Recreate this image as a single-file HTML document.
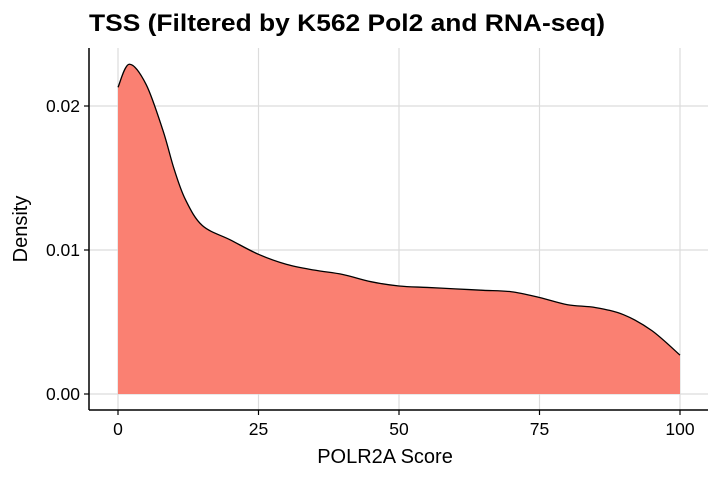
<!DOCTYPE html>
<html><head><meta charset="utf-8"><style>
body{margin:0;background:#fff;font-family:"Liberation Sans",sans-serif}
</style></head><body>
<svg id="chart" width="720" height="480">
<text x="89" y="31" font-size="24" font-weight="bold" fill="#000" textLength="516" lengthAdjust="spacingAndGlyphs">TSS (Filtered by K562 Pol2 and RNA-seq)</text>
<g id="grid"></g>
<g id="area"></g>
<g id="axes"></g>
<text x="385" y="463" font-size="20" text-anchor="middle">POLR2A Score</text>
<text transform="translate(27,229) rotate(-90)" font-size="20" text-anchor="middle">Density</text>
</svg>
<script>
const xs=[0,2,5,8,10,12,15,20,25,30,35,40,45,50,55,60,65,70,75,80,85,90,95,100];
const ys=[0.0213,0.0229,0.0215,0.0183,0.0156,0.0135,0.0117,0.0107,0.0097,0.0090,0.0086,0.0083,0.0078,0.0075,0.0074,0.0073,0.0072,0.0071,0.0067,0.0062,0.0060,0.0055,0.0044,0.0027];
const xTicks=[0,25,50,75,100];
const yTicks=[0,0.01,0.02];
const yTickLabels=["0.00","0.01","0.02"];
const X=v=>118+v*5.62, Y=v=>394-v*14400;
const NS="http://www.w3.org/2000/svg";
function mk(p,t,a){const e=document.createElementNS(NS,t);for(const k in a)e.setAttribute(k,a[k]);p.appendChild(e);return e;}
const g=document.getElementById('grid'),ar=document.getElementById('area'),ax=document.getElementById('axes');
xTicks.forEach(t=>{const l=mk(g,'line',{x1:X(t),x2:X(t),y1:48,y2:410,stroke:'#dcdcdc','stroke-width':1.2});

});
yTicks.forEach(t=>{const l=mk(g,'line',{x1:89,x2:708,y1:Y(t),y2:Y(t),stroke:'#dcdcdc','stroke-width':1.2});

});
const pts=xs.map((x,i)=>[X(x),Y(ys[i])]);
let d=`M${pts[0][0]},${pts[0][1]}`;
for(let i=0;i<pts.length-1;i++){const p0=pts[Math.max(0,i-1)],p1=pts[i],p2=pts[i+1],p3=pts[Math.min(pts.length-1,i+2)];
d+=` C${p1[0]+(p2[0]-p0[0])/6},${p1[1]+(p2[1]-p0[1])/6} ${p2[0]-(p3[0]-p1[0])/6},${p2[1]-(p3[1]-p1[1])/6} ${p2[0]},${p2[1]}`;}
const fill=mk(ar,'path',{d:d+` L${X(100)},${Y(0)} L${X(0)},${Y(0)} Z`,fill:'#fa8072'});


const line=mk(ar,'path',{d:d,fill:'none',stroke:'#000','stroke-width':1.3});


const ya=mk(ax,'line',{x1:89,x2:89,y1:48,y2:410,stroke:'#000','stroke-width':1.5});


const xa=mk(ax,'line',{x1:89,x2:708,y1:410,y2:410,stroke:'#000','stroke-width':1.5});


xTicks.forEach(t=>{mk(ax,'line',{x1:X(t),x2:X(t),y1:410,y2:415,stroke:'#000','stroke-width':1.2});
const tx=mk(ax,'text',{x:X(t),y:435,'font-size':17.5,'text-anchor':'middle'});tx.textContent=t;

});
yTicks.forEach((t,i)=>{mk(ax,'line',{x1:84,x2:89,y1:Y(t),y2:Y(t),stroke:'#000','stroke-width':1.2});
const tx=mk(ax,'text',{x:80,y:Y(t)+6,'font-size':17.5,'text-anchor':'end'});tx.textContent=yTickLabels[i];

});
</script>
</body></html>
